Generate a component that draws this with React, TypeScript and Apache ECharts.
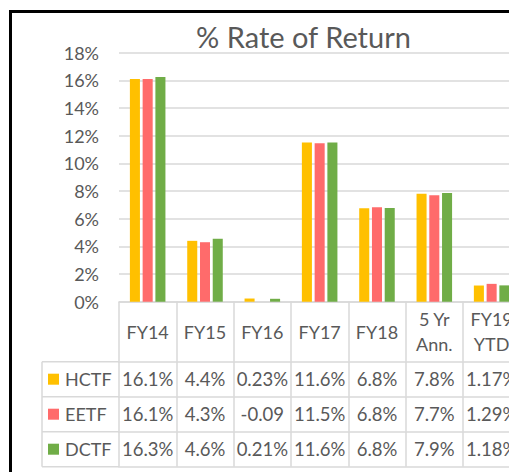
import React, { useEffect, useRef } from "react";
import * as echarts from "echarts";

const categories = ["FY14", "FY15", "FY16", "FY17", "FY18", "5 Yr\nAnn.", "FY19\nYTD"];
const seriesNames = ["HCTF", "EETF", "DCTF"];
const hctf = [16.1, 4.4, 0.23, 11.5, 6.75, 7.8, 1.17];
const eetf = [16.1, 4.3, -0.09, 11.45, 6.82, 7.7, 1.29];
const dctf = [16.25, 4.55, 0.21, 11.5, 6.78, 7.85, 1.18];
const hctfLabels = ["16.1%", "4.4%", "0.23%", "11.6%", "6.8%", "7.8%", "1.17%"];
const eetfLabels = ["16.1%", "4.3%", "-0.09", "11.5%", "6.8%", "7.7%", "1.29%"];
const dctfLabels = ["16.3%", "4.6%", "0.21%", "11.6%", "6.8%", "7.9%", "1.18%"];
const colors = ["#FFC000", "#FF6B6B", "#70AD47"];

const FONT = "Lato";
const TXT = "#595959";
const LINE = "#D9D9D9";

export default function App() {
  const ref = useRef<HTMLDivElement>(null);
  useEffect(() => {
    if (!ref.current) return;
    const chart = echarts.init(ref.current, undefined, { renderer: "svg" });
    const gridLeft = 119;
    const gridTop = 52.7;
    const zeroY = 301.7;
    const headerH = 60;
    const rowH = 35;
    const legendLeftX = 42;

    const lineStyle = { color: LINE, width: 1.5 };
    const tableAxis = (data: string[], offset: number) => ({
      type: "category",
      data,
      position: "bottom",
      offset,
      axisLine: { show: true, lineStyle },
      axisTick: { show: true, length: rowH, interval: 0, lineStyle },
      axisLabel: {
        interval: 0,
        margin: rowH / 2,
        verticalAlign: "middle",
        color: TXT,
        fontSize: 18.5,
        fontFamily: FONT,
      },
      splitLine: { show: false },
    });

    const rowTops = [0, 1, 2, 3].map((i) => zeroY + headerH + i * rowH);

    chart.setOption({
      animation: false,
      title: {
        text: "% Rate of Return",
        left: 298.5,
        top: 17,
        textAlign: "center",
        textStyle: { color: TXT, fontSize: 29, fontWeight: "normal", fontFamily: FONT },
      },
      legend: {
        data: seriesNames,
        orient: "vertical",
        left: 48,
        top: rowTops[0] + rowH / 2 - 10,
        padding: 0,
        itemGap: rowH - 20,
        itemWidth: 11,
        itemHeight: 11,
        icon: "rect",
        selectedMode: false,
        textStyle: { color: TXT, fontSize: 18, fontFamily: FONT, lineHeight: 20, padding: [0, 0, 0, 1] },
      },
      grid: {
        left: gridLeft,
        top: gridTop,
        right: -11.3,
        bottom: 472 - zeroY,
        containLabel: false,
        outerBoundsMode: "none",
      },
      xAxis: [
        {
          type: "category",
          data: categories,
          position: "bottom",
          axisLine: { show: true, lineStyle },
          axisTick: { show: true, length: headerH, interval: 0, lineStyle },
          axisLabel: {
            interval: 0,
            margin: headerH / 2,
            verticalAlign: "middle",
            color: TXT,
            fontSize: 18,
            lineHeight: 25,
            fontFamily: FONT,
          },
        },
        tableAxis(hctfLabels, headerH),
        tableAxis(eetfLabels, headerH + rowH),
        tableAxis(dctfLabels, headerH + 2 * rowH),
        {
          type: "category",
          data: categories,
          position: "bottom",
          offset: headerH + 3 * rowH,
          axisLine: { show: true, lineStyle },
          axisTick: { show: false },
          axisLabel: { show: false },
        },
      ],
      yAxis: {
        type: "value",
        min: 0,
        max: 18,
        interval: 2,
        axisLine: { show: false },
        axisTick: { show: false },
        axisLabel: {
          formatter: "{value}%",
          color: TXT,
          fontSize: 18,
          fontFamily: FONT,
          margin: 20,
        },
        splitLine: { lineStyle: { color: LINE, width: 1.5 } },
      },
      series: [hctf, eetf, dctf].map((d, i) => ({
        name: seriesNames[i],
        type: "bar",
        data: d,
        barGap: "27%",
        barCategoryGap: "38%",
        itemStyle: { color: colors[i] },
      })),
      graphic: [
        ...rowTops.map((y) => ({
          type: "line",
          shape: { x1: legendLeftX, y1: y, x2: gridLeft, y2: y },
          style: { stroke: LINE, lineWidth: 1.5 },
          silent: true,
        })),
        {
          type: "line",
          shape: { x1: legendLeftX, y1: rowTops[0], x2: legendLeftX, y2: rowTops[3] },
          style: { stroke: LINE, lineWidth: 1.5 },
          silent: true,
        },
        {
          type: "rect",
          shape: { x: 10.5, y: 11.5, width: 800, height: 800 },
          style: { fill: "none", stroke: "#000", lineWidth: 3 },
          silent: true,
          z: 100,
        },
      ],
    });
    return () => chart.dispose();
  }, []);
  return (
    <div
      ref={ref}
      style={{ position: "absolute", left: 0, top: 0, width: 509, height: 472, background: "#fff" }}
    />
  );
}
